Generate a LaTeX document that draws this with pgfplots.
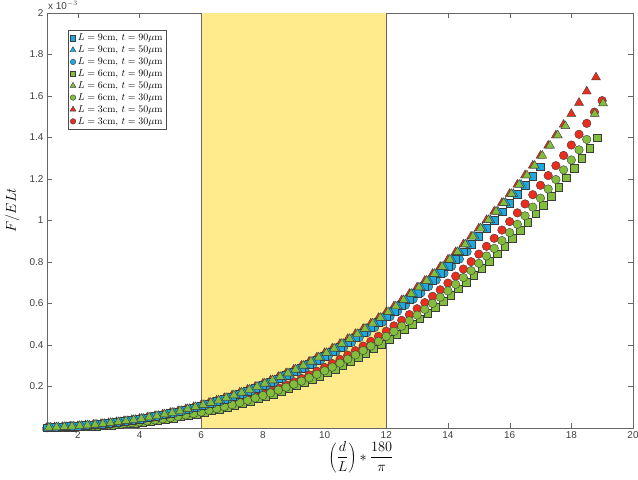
\documentclass[border=0pt]{standalone}
\usepackage{pgfplots}
\pgfplotsset{compat=1.18}
\usepackage{pgfplotstable}
\usepackage{fontspec}
\newfontfamily\tickfont{Liberation Sans}
\definecolor{cblue}{RGB}{30,170,225}
\definecolor{cgreen}{RGB}{130,190,60}
\definecolor{cred}{RGB}{235,45,30}
\definecolor{cedge}{RGB}{60,60,60}
\definecolor{band}{RGB}{255,235,140}

\pgfplotstableread{
x y
1.00 0.0024
1.25 0.0038
1.50 0.0056
1.75 0.0077
2.00 0.0102
2.25 0.0131
2.50 0.0164
2.75 0.0201
3.00 0.0242
3.25 0.0287
3.50 0.0337
3.75 0.0392
4.00 0.0451
4.25 0.0515
4.50 0.0584
4.75 0.0659
5.00 0.0738
5.25 0.0823
5.50 0.0913
5.75 0.1009
6.00 0.1110
6.25 0.1218
6.50 0.1331
6.75 0.1451
7.00 0.1576
7.25 0.1708
7.50 0.1847
7.75 0.1992
8.00 0.2144
8.25 0.2302
8.50 0.2468
8.75 0.2640
9.00 0.2820
9.25 0.3007
9.50 0.3202
9.75 0.3404
10.00 0.3614
10.25 0.3832
10.50 0.4057
10.75 0.4291
11.00 0.4533
11.25 0.4783
11.50 0.5042
11.75 0.5309
12.00 0.5586
12.25 0.5870
12.50 0.6164
12.75 0.6467
13.00 0.6779
13.25 0.7100
13.50 0.7431
13.75 0.7771
14.00 0.8121
14.25 0.8481
14.50 0.8851
14.75 0.9231
15.00 0.9621
15.25 1.0021
15.50 1.0432
15.75 1.0853
16.00 1.1285
16.25 1.1728
16.50 1.2182
16.75 1.2647
17.00 1.3123
17.25 1.3610
17.50 1.4109
17.75 1.4619
18.00 1.5141
18.25 1.5675
18.50 1.6221
18.80 1.6900
}\redtri

\pgfplotstableread{
x y
1.12 0.0024
1.37 0.0038
1.62 0.0056
1.87 0.0077
2.12 0.0102
2.37 0.0131
2.62 0.0164
2.87 0.0201
3.12 0.0242
3.37 0.0287
3.62 0.0337
3.87 0.0392
4.12 0.0451
4.37 0.0515
4.62 0.0584
4.87 0.0659
5.12 0.0738
5.37 0.0823
5.62 0.0913
5.87 0.1009
6.12 0.1110
6.37 0.1218
6.62 0.1331
6.87 0.1451
7.12 0.1576
7.37 0.1708
7.62 0.1847
7.87 0.1992
8.12 0.2144
8.37 0.2302
8.62 0.2468
8.87 0.2640
9.12 0.2820
9.37 0.3007
9.62 0.3202
9.87 0.3404
10.12 0.3614
10.37 0.3832
10.62 0.4057
10.87 0.4291
11.12 0.4533
11.37 0.4783
11.62 0.5042
11.87 0.5309
12.12 0.5586
12.37 0.5870
12.62 0.6164
12.87 0.6467
13.12 0.6779
13.37 0.7100
13.62 0.7431
13.87 0.7771
14.12 0.8121
14.37 0.8481
14.62 0.8851
14.87 0.9231
15.12 0.9621
15.37 1.0021
15.62 1.0432
15.87 1.0853
16.12 1.1285
16.37 1.1728
}\bluetri

\pgfplotstableread{
x y
1.06 0.0024
1.31 0.0038
1.56 0.0056
1.81 0.0077
2.06 0.0102
2.31 0.0131
2.56 0.0164
2.81 0.0201
3.06 0.0242
3.31 0.0287
3.56 0.0337
3.81 0.0392
4.06 0.0451
4.31 0.0515
4.56 0.0584
4.81 0.0659
5.06 0.0738
5.31 0.0823
5.56 0.0913
5.81 0.1009
6.06 0.1110
6.31 0.1218
6.56 0.1331
6.81 0.1451
7.06 0.1576
7.31 0.1708
7.56 0.1847
7.81 0.1992
8.06 0.2144
8.31 0.2302
8.56 0.2468
8.81 0.2640
9.06 0.2820
9.31 0.3007
9.56 0.3202
9.81 0.3404
10.06 0.3614
10.31 0.3832
10.56 0.4057
10.81 0.4291
11.06 0.4533
11.31 0.4783
11.56 0.5042
11.81 0.5309
12.06 0.5586
12.31 0.5870
12.56 0.6164
12.81 0.6467
13.06 0.6779
13.31 0.7100
13.56 0.7431
13.81 0.7771
14.06 0.8121
14.31 0.8481
14.56 0.8851
14.81 0.9231
15.06 0.9621
15.31 1.0021
15.56 1.0432
15.81 1.0853
16.06 1.1285
16.31 1.1728
16.56 1.2182
16.81 1.2647
17.06 1.3123
17.31 1.3610
17.56 1.4109
17.81 1.4550
18.76 1.5140
19.03 1.5650
}\greentri

\pgfplotstableread{
x y
1.00 0.0023
1.25 0.0036
1.50 0.0054
1.75 0.0074
2.00 0.0098
2.25 0.0126
2.50 0.0157
2.75 0.0193
3.00 0.0232
3.25 0.0276
3.50 0.0324
3.75 0.0376
4.00 0.0433
4.25 0.0494
4.50 0.0561
4.75 0.0633
5.00 0.0708
5.25 0.0790
5.50 0.0876
5.75 0.0969
6.00 0.1066
6.25 0.1169
6.50 0.1278
6.75 0.1393
7.00 0.1513
7.25 0.1640
7.50 0.1773
7.75 0.1912
8.00 0.2058
8.25 0.2210
8.50 0.2369
8.75 0.2534
9.00 0.2707
9.25 0.2887
9.50 0.3074
9.75 0.3268
10.00 0.3469
10.25 0.3679
10.50 0.3895
10.75 0.4119
11.00 0.4352
11.25 0.4592
11.50 0.4840
11.75 0.5097
12.00 0.5363
12.25 0.5635
12.50 0.5917
12.75 0.6208
13.00 0.6508
13.25 0.6816
13.50 0.7134
13.75 0.7460
14.00 0.7796
14.25 0.8142
14.50 0.8497
14.75 0.8862
15.00 0.9236
15.25 0.9620
15.50 1.0015
15.75 1.0419
16.00 1.0834
16.25 1.1259
16.50 1.1695
16.75 1.2141
17.00 1.2598
}\bluesq

\pgfplotstableread{
x y
1.12 0.0023
1.37 0.0036
1.62 0.0054
1.87 0.0074
2.12 0.0098
2.37 0.0126
2.62 0.0157
2.87 0.0193
3.12 0.0232
3.37 0.0276
3.62 0.0324
3.87 0.0376
4.12 0.0433
4.37 0.0494
4.62 0.0561
4.87 0.0633
5.12 0.0708
5.37 0.0790
5.62 0.0876
5.87 0.0969
6.12 0.1066
6.37 0.1169
6.62 0.1278
6.87 0.1393
7.12 0.1513
7.37 0.1640
7.62 0.1773
7.87 0.1912
8.12 0.2058
8.37 0.2210
8.62 0.2369
8.87 0.2534
9.12 0.2707
9.37 0.2887
9.62 0.3074
9.87 0.3268
10.12 0.3469
10.37 0.3679
10.62 0.3895
10.87 0.4119
11.12 0.4352
11.37 0.4592
11.62 0.4840
11.87 0.5097
12.12 0.5363
12.37 0.5635
12.62 0.5917
12.87 0.6208
13.12 0.6508
13.37 0.6816
13.62 0.7134
13.87 0.7460
14.12 0.7796
14.37 0.8142
14.62 0.8497
}\bluecirc

\pgfplotstableread{
x y
1.09 0.0013
1.34 0.0021
1.59 0.0032
1.84 0.0044
2.09 0.0059
2.34 0.0077
2.59 0.0097
2.84 0.0120
3.09 0.0146
3.34 0.0176
3.59 0.0208
3.84 0.0245
4.09 0.0284
4.34 0.0328
4.59 0.0375
4.84 0.0426
5.09 0.0481
5.34 0.0541
5.59 0.0605
5.84 0.0674
6.09 0.0747
6.34 0.0825
6.59 0.0908
6.84 0.0996
7.09 0.1090
7.34 0.1189
7.59 0.1293
7.84 0.1403
8.09 0.1519
8.34 0.1641
8.59 0.1769
8.84 0.1903
9.09 0.2043
9.34 0.2190
9.59 0.2344
9.84 0.2505
10.09 0.2672
10.34 0.2846
10.59 0.3028
10.84 0.3217
11.09 0.3414
11.34 0.3618
11.59 0.3830
11.84 0.4050
12.09 0.4278
12.34 0.4514
12.59 0.4758
12.84 0.5011
13.09 0.5273
13.34 0.5543
13.59 0.5822
13.84 0.6110
14.09 0.6408
14.34 0.6714
14.59 0.7030
14.84 0.7356
15.09 0.7692
15.34 0.8037
15.59 0.8392
15.84 0.8758
16.09 0.9134
16.34 0.9520
16.59 0.9917
16.84 1.0324
17.09 1.0742
17.34 1.1172
17.59 1.1612
17.84 1.2064
18.09 1.2527
18.34 1.3002
18.59 1.3488
18.84 1.3986
}\greensq

\pgfplotstableread{
x y
1.00 0.0014
1.25 0.0022
1.50 0.0033
1.75 0.0046
2.00 0.0061
2.25 0.0079
2.50 0.0101
2.75 0.0124
3.00 0.0151
3.25 0.0182
3.50 0.0215
3.75 0.0253
4.00 0.0294
4.25 0.0339
4.50 0.0388
4.75 0.0440
5.00 0.0497
5.25 0.0559
5.50 0.0625
5.75 0.0696
6.00 0.0772
6.25 0.0852
6.50 0.0938
6.75 0.1029
7.00 0.1126
7.25 0.1228
7.50 0.1335
7.75 0.1449
8.00 0.1568
8.25 0.1694
8.50 0.1826
8.75 0.1965
9.00 0.2109
9.25 0.2261
9.50 0.2420
9.75 0.2586
10.00 0.2758
10.25 0.2937
10.50 0.3125
10.75 0.3320
11.00 0.3523
11.25 0.3733
11.50 0.3952
11.75 0.4178
12.00 0.4414
12.25 0.4657
12.50 0.4909
12.75 0.5170
13.00 0.5440
13.25 0.5718
13.50 0.6005
13.75 0.6303
14.00 0.6609
14.25 0.6925
14.50 0.7251
14.75 0.7587
15.00 0.7933
15.25 0.8289
15.50 0.8655
15.75 0.9032
16.00 0.9419
16.25 0.9817
16.50 1.0226
16.75 1.0645
17.00 1.1076
17.25 1.1519
17.50 1.1973
17.75 1.2439
18.00 1.2916
18.25 1.3405
18.50 1.3906
}\greencirc

\pgfplotstableread{
x y
1.00 0.0015
1.25 0.0023
1.50 0.0035
1.75 0.0049
2.00 0.0065
2.25 0.0084
2.50 0.0107
2.75 0.0132
3.00 0.0161
3.25 0.0193
3.50 0.0229
3.75 0.0268
4.00 0.0312
4.25 0.0359
4.50 0.0411
4.75 0.0467
5.00 0.0527
5.25 0.0593
5.50 0.0663
5.75 0.0738
6.00 0.0818
6.25 0.0903
6.50 0.0994
6.75 0.1090
7.00 0.1192
7.25 0.1300
7.50 0.1414
7.75 0.1534
8.00 0.1660
8.25 0.1793
8.50 0.1933
8.75 0.2079
9.00 0.2232
9.25 0.2392
9.50 0.2560
9.75 0.2735
10.00 0.2917
10.25 0.3107
10.50 0.3305
10.75 0.3511
11.00 0.3725
11.25 0.3947
11.50 0.4178
11.75 0.4417
12.00 0.4666
12.25 0.4923
12.50 0.5189
12.75 0.5464
13.00 0.5749
13.25 0.6043
13.50 0.6346
13.75 0.6660
14.00 0.6983
14.25 0.7317
14.50 0.7661
14.75 0.8015
15.00 0.8380
15.25 0.8756
15.50 0.9142
15.75 0.9540
16.00 0.9948
16.25 1.0368
16.50 1.0799
16.75 1.1242
17.00 1.1697
17.25 1.2164
17.50 1.2643
17.75 1.3134
18.00 1.3637
18.25 1.4153
18.50 1.4682
18.75 1.5223
19.00 1.5778
}\redcirc

\begin{document}
\begin{tikzpicture}
\begin{axis}[
  at={(0,0)}, anchor=south west,
  scale only axis,
  width=586bp, height=415bp,
  xmin=1, xmax=20, ymin=0, ymax=2,
  xtick={2,4,6,8,10,12,14,16,18,20},
  ytick={0.2,0.4,0.6,0.8,1,1.2,1.4,1.6,1.8,2},
  /pgf/number format/assume math mode=true,
  ticklabel style={font=\tickfont\fontsize{10}{11}\selectfont, text=black!75},
  axis line style={draw=black!60},
  tick style={draw=black!60},
  major tick length=5bp,
  tick align=inside,
  xlabel={$\displaystyle\left(\frac{d}{L}\right)*\frac{180}{\pi}$},
  xlabel style={font=\fontsize{15}{17}\selectfont, at={(axis description cs:0.536,0)}, anchor=north, yshift=-10bp},
  ylabel={$F/ELt$},
  ylabel style={font=\fontsize{14}{16}\selectfont, at={(axis description cs:0,0.525)}, anchor=south, yshift=24bp},
  legend style={at={(rel axis cs:0.036,0.959)}, anchor=north west,
    font=\fontsize{9.8}{10}\selectfont, draw=black!70, row sep=-0.4pt,
    inner sep=1.8pt, cells={anchor=west}},
  legend cell align=left,
  clip=false,
]
\fill[band] (axis cs:6,0) rectangle (axis cs:12,2);
\draw[black!60, line width=0.8pt] (axis cs:6,0) -- (axis cs:6,2);
\draw[black!60, line width=0.8pt] (axis cs:12,0) -- (axis cs:12,2);

\addlegendimage{only marks, mark=square*, mark size=2.6pt, fill=cblue, draw=cedge, line width=0.4pt}
\addlegendentry{$L=9\mathrm{cm},\, t=90\mu\mathrm{m}$}
\addlegendimage{only marks, mark=triangle*, mark size=3.4pt, fill=cblue, draw=cedge, line width=0.4pt}
\addlegendentry{$L=9\mathrm{cm},\, t=50\mu\mathrm{m}$}
\addlegendimage{only marks, mark=*, mark size=2.8pt, fill=cblue, draw=cedge, line width=0.4pt}
\addlegendentry{$L=9\mathrm{cm},\, t=30\mu\mathrm{m}$}
\addlegendimage{only marks, mark=square*, mark size=2.6pt, fill=cgreen, draw=cedge, line width=0.4pt}
\addlegendentry{$L=6\mathrm{cm},\, t=90\mu\mathrm{m}$}
\addlegendimage{only marks, mark=triangle*, mark size=3.4pt, fill=cgreen, draw=cedge, line width=0.4pt}
\addlegendentry{$L=6\mathrm{cm},\, t=50\mu\mathrm{m}$}
\addlegendimage{only marks, mark=*, mark size=2.8pt, fill=cgreen, draw=cedge, line width=0.4pt}
\addlegendentry{$L=6\mathrm{cm},\, t=30\mu\mathrm{m}$}
\addlegendimage{only marks, mark=triangle*, mark size=3.4pt, fill=cred, draw=cedge, line width=0.4pt}
\addlegendentry{$L=3\mathrm{cm},\, t=50\mu\mathrm{m}$}
\addlegendimage{only marks, mark=*, mark size=2.8pt, fill=cred, draw=cedge, line width=0.4pt}
\addlegendentry{$L=3\mathrm{cm},\, t=30\mu\mathrm{m}$}

\pgfplotsset{every axis plot/.append style={only marks, forget plot, line width=0.4pt}}
\addplot[mark=square*, mark size=3.8pt, mark options={fill=cgreen, draw=cedge}] table {\greensq};
\addplot[mark=*, mark size=4.3pt, mark options={fill=cred, draw=cedge}] table {\redcirc};
\addplot[mark=*, mark size=4.3pt, mark options={fill=cgreen, draw=cedge}] table {\greencirc};
\addplot[mark=triangle*, mark size=5.2pt, mark options={fill=cred, draw=cedge}] table {\redtri};
\addplot[mark=*, mark size=4.3pt, mark options={fill=cblue, draw=cedge}] table {\bluecirc};
\addplot[mark=square*, mark size=3.8pt, mark options={fill=cblue, draw=cedge}] table {\bluesq};
\addplot[mark=triangle*, mark size=5.2pt, mark options={fill=cblue, draw=cedge}] table {\bluetri};
\addplot[mark=triangle*, mark size=5.2pt, mark options={fill=cgreen, draw=cedge}] table {\greentri};

\node[anchor=base west, inner sep=0pt, font=\tickfont\fontsize{10}{11}\selectfont, text=black!75]
  at (rel axis cs:0,1) [xshift=1bp, yshift=3.5bp] {x 10$^{-3}$};
\end{axis}
\pgfresetboundingbox
\path[use as bounding box] (-47bp,-52bp) rectangle (591bp,428bp);
\end{tikzpicture}
\end{document}
